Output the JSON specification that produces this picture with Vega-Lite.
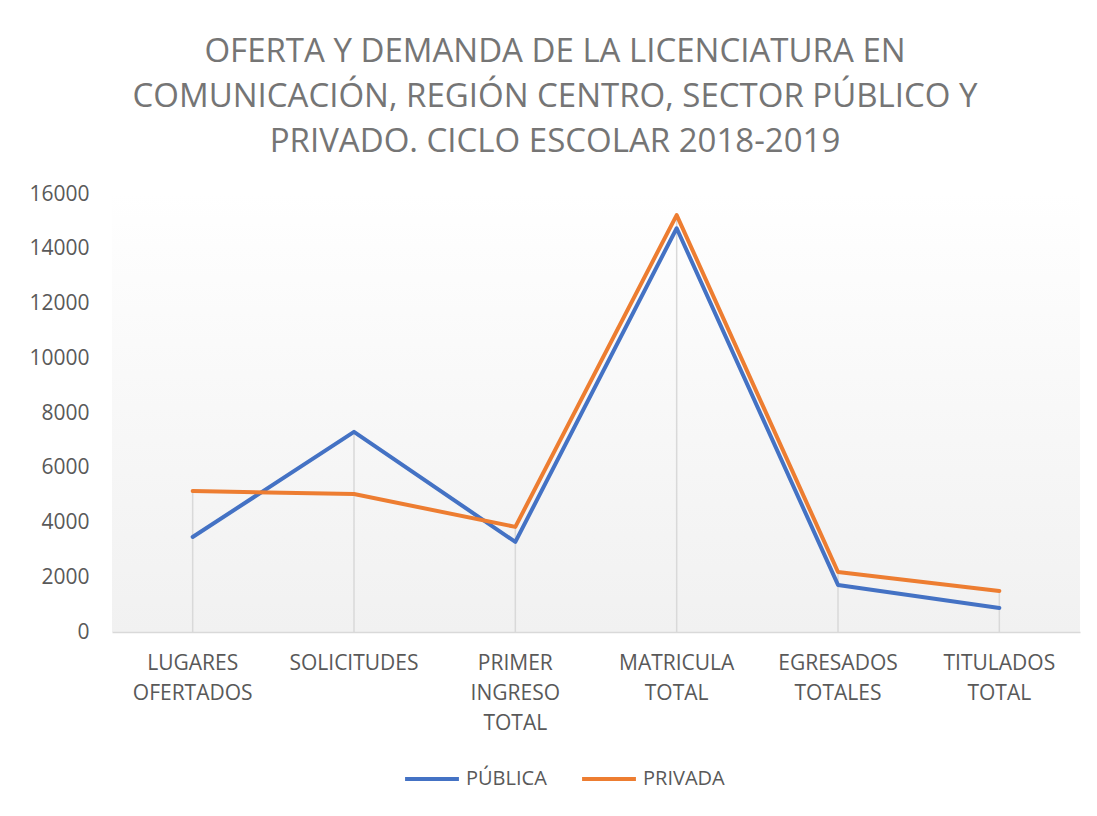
{
  "$schema": "https://vega.github.io/schema/vega-lite/v6.json",
  "autosize": {"type": "none"},
  "width": 968,
  "height": 438,
  "padding": {"left": 112, "top": 194, "right": 17, "bottom": 184},
  "background": "#ffffff",
  "title": {
    "text": ["OFERTA Y DEMANDA DE LA LICENCIATURA EN", "COMUNICACIÓN, REGIÓN CENTRO, SECTOR PÚBLICO Y", "PRIVADO. CICLO ESCOLAR 2018-2019"],
    "anchor": "middle",
    "dx": -41,
    "offset": 24,
    "font": "Open Sans",
    "fontSize": 33,
    "fontWeight": "normal",
    "color": "#757575",
    "lineHeight": 45
  },
  "data": {
    "values": [
      {"categoria": "LUGARES OFERTADOS", "sector": "PÚBLICA", "valor": 3470},
      {"categoria": "SOLICITUDES", "sector": "PÚBLICA", "valor": 7310},
      {"categoria": "PRIMER INGRESO TOTAL", "sector": "PÚBLICA", "valor": 3290},
      {"categoria": "MATRICULA TOTAL", "sector": "PÚBLICA", "valor": 14750},
      {"categoria": "EGRESADOS TOTALES", "sector": "PÚBLICA", "valor": 1720},
      {"categoria": "TITULADOS TOTAL", "sector": "PÚBLICA", "valor": 880},
      {"categoria": "LUGARES OFERTADOS", "sector": "PRIVADA", "valor": 5150},
      {"categoria": "SOLICITUDES", "sector": "PRIVADA", "valor": 5040},
      {"categoria": "PRIMER INGRESO TOTAL", "sector": "PRIVADA", "valor": 3840},
      {"categoria": "MATRICULA TOTAL", "sector": "PRIVADA", "valor": 15230},
      {"categoria": "EGRESADOS TOTALES", "sector": "PRIVADA", "valor": 2190},
      {"categoria": "TITULADOS TOTAL", "sector": "PRIVADA", "valor": 1500}
    ]
  },
  "encoding": {
    "x": {
      "field": "categoria",
      "type": "nominal",
      "sort": null,
      "scale": {"paddingInner": 0, "paddingOuter": 0},
      "axis": {
        "title": null,
        "labelAngle": 0,
        "labelExpr": "split(datum.label, ' ')",
        "labelFont": "Open Sans",
        "labelFontSize": 21,
        "labelColor": "#595959",
        "labelLineHeight": 30,
        "labelPadding": 20,
        "labelBaseline": "top",
        "ticks": false,
        "domainColor": "#d9d9d9",
        "domainWidth": 1.5,
        "grid": false
      }
    }
  },
  "layer": [
    {
      "mark": {"type": "rule", "color": "#d9d9d9", "strokeWidth": 1.5},
      "encoding": {
        "y": {"aggregate": "max", "field": "valor", "type": "quantitative"},
        "y2": {"datum": 0}
      }
    },
    {
      "mark": {"type": "line", "strokeWidth": 4, "strokeCap": "round", "strokeJoin": "round"},
      "encoding": {
        "y": {
          "field": "valor",
          "type": "quantitative",
          "scale": {"domain": [0, 16000], "nice": false},
          "axis": {
            "title": null,
            "values": [0, 2000, 4000, 6000, 8000, 10000, 12000, 14000, 16000],
            "format": "d",
            "labelFont": "Open Sans",
            "labelFontSize": 21,
            "labelColor": "#595959",
            "labelPadding": 23,
            "ticks": false,
            "domain": false,
            "grid": false
          }
        },
        "color": {
          "field": "sector",
          "type": "nominal",
          "sort": ["PÚBLICA", "PRIVADA"],
          "scale": {"domain": ["PÚBLICA", "PRIVADA"], "range": ["#4472C4", "#ED7D31"]},
          "legend": {
            "title": null,
            "orient": "none",
            "direction": "horizontal",
            "legendX": 291,
            "legendY": 556,
            "symbolType": "stroke",
            "symbolStrokeWidth": 4,
            "symbolSize": 2900,
            "labelFont": "Open Sans",
            "labelFontSize": 20,
            "labelColor": "#595959",
            "labelOffset": 5,
            "columnPadding": 27
          }
        }
      }
    }
  ],
  "config": {
    "view": {
      "stroke": null,
      "fill": {
        "gradient": "linear",
        "x1": 0, "y1": 0, "x2": 0, "y2": 1,
        "stops": [
          {"offset": 0, "color": "#ffffff"},
          {"offset": 0.12, "color": "#fdfdfd"},
          {"offset": 1, "color": "#f1f1f1"}
        ]
      }
    }
  }
}
